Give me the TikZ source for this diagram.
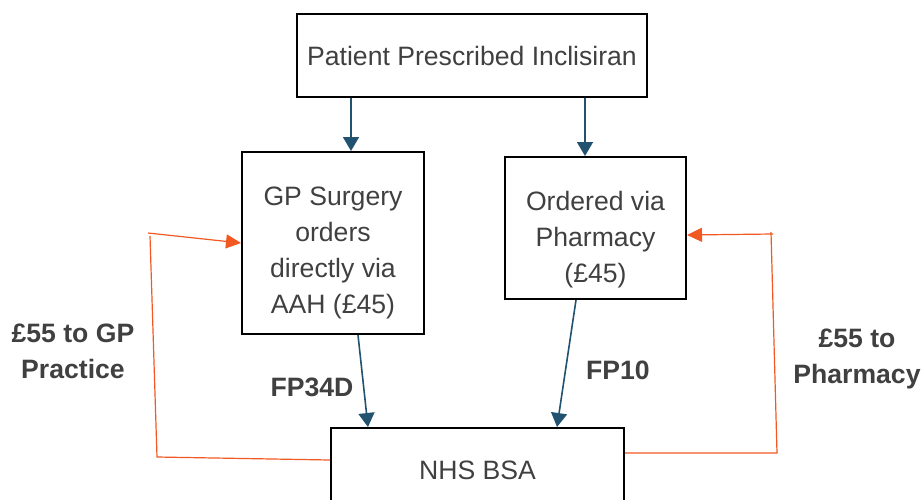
\documentclass[tikz,border=0pt]{standalone}
\usepackage{fontspec}
\setmainfont{Liberation Sans}
\usetikzlibrary{positioning}
\usetikzlibrary {arrows.meta}
\definecolor{boxtext}{RGB}{64,64,64}
\definecolor{flowblue}{RGB}{33,82,112}
\definecolor{payorange}{RGB}{242,88,34}
\tikzset{
    stepbox/.style={draw=black, line width=1pt, text=boxtext, align=center,
        font=\fontsize{13.3}{18}\selectfont, inner sep=0pt},
    steptext/.style={text=boxtext, align=center, font=\fontsize{13.3}{18}\selectfont, inner sep=0pt},
    flow/.style={draw=flowblue, line width=0.8pt, -{Triangle[width=8pt,length=7pt]}, flowblue},
    pay/.style={draw=payorange, line width=0.6pt, payorange},
    paylabel/.style={text=boxtext, align=center, font=\fontsize{13.3}{18}\selectfont\bfseries}
}

\begin{document}
\begin{tikzpicture}[x=0.5pt, y=-0.5pt]
    \useasboundingbox (0,0) rectangle (922,499);
    %% boxes
    \node[stepbox, minimum width=175pt, minimum height=41.5pt] (p1) at (472,55.5) {\raisebox{-1pt}{Patient Prescribed Inclisiran}};
    \node[stepbox, minimum width=91pt, minimum height=91pt,
        label={[steptext, yshift=-5pt]center:{GP Surgery\\orders\\directly via\\AAH (£45)}}] (p2) at (333,243) {};
    \node[stepbox, minimum width=90.5pt, minimum height=71pt,
        label={[steptext, yshift=-6pt]center:{Ordered via\\Pharmacy\\(£45)}}] (p3) at (595.5,228) {};
    \node[stepbox, minimum width=146.5pt, minimum height=42pt] (p4) at (477.5,470) {NHS BSA};
    % ordering and claims
    \draw[flow] ([xshift=9pt]p2.north |- p1.south) -- ([xshift=9pt]p2.north);
    \draw[flow] ([xshift=-5.25pt]p3.north |- p1.south) -- ([xshift=-5.25pt]p3.north);
    \draw[flow] ([xshift=12.5pt]p2.south) -- ([xshift=-54.75pt]p4.north);
    \draw[flow] ([xshift=-9.75pt]p3.south) -- ([xshift=39.75pt]p4.north);
    \node[paylabel] (l1) at (312,387) {FP34D};
    \node[paylabel] (l2) at (618,370) {FP10};
    % reimbursement
    \coordinate (a1) at (148,233);
    \coordinate (a2) at (150,236);
    \coordinate (a3) at (157,457);
    \coordinate (b1) at (777,453);
    \coordinate (b2) at (771,232);
    \coordinate (b3) at (773,234);
    \draw[pay, -{Triangle[width=7pt,length=7.5pt]}] (a1) -- (p2.west);
    \draw[pay] (a2) -- (a3) -- ([yshift=5pt]p4.west);
    \draw[pay] ([yshift=8.5pt]p4.east) -- (b1) -- (b2);
    \draw[pay, -{Triangle[width=7pt,length=7.5pt]}] (b3) -- ([yshift=-3.5pt]p3.east);
    \node[paylabel] (l3) at (73,351) {£55 to GP\\Practice};
    \node[paylabel] (l4) at (857,359) {£55 to\\Pharmacy};
\end{tikzpicture}
\end{document}
